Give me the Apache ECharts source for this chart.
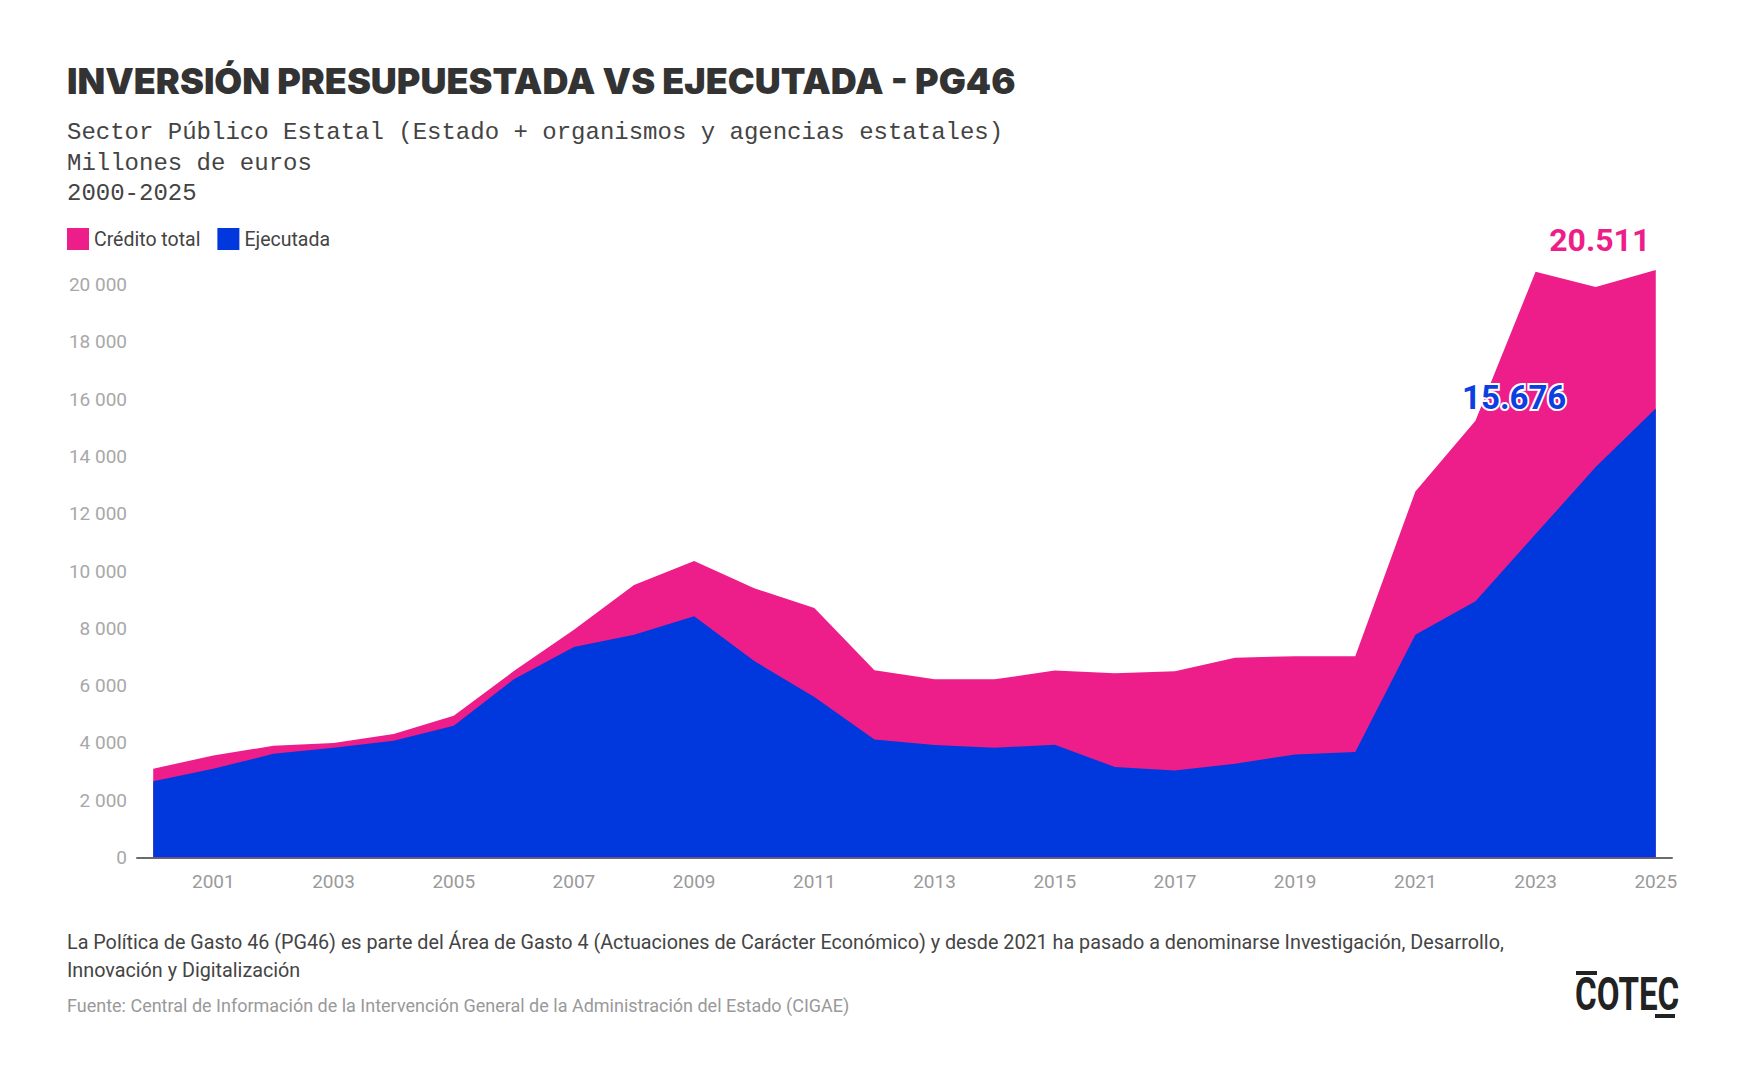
<!DOCTYPE html>
<html>
<head>
<meta charset="utf-8">
<script src="https://cdn.jsdelivr.net/npm/echarts@6/dist/echarts.min.js"></script>
<style>
  html, body { margin: 0; padding: 0; background: #fff; }
  #chart { width: 1744px; height: 1086px; }
</style>
</head>
<body>
<div id="chart"></div>
<script>
const years = [2000, 2001, 2002, 2003, 2004, 2005, 2006, 2007, 2008, 2009, 2010, 2011, 2012,
  2013, 2014, 2015, 2016, 2017, 2018, 2019, 2020, 2021, 2022, 2023, 2024, 2025];
const creditoTotal = [3100, 3560, 3900, 4000, 4310, 4950, 6510, 7950, 9510, 10350, 9400, 8710, 6540,
  6220, 6220, 6530, 6430, 6500, 6970, 7030, 7030, 12780, 15250, 20450, 19920, 20511];
const ejecutada = [2660, 3100, 3620, 3830, 4080, 4600, 6220, 7350, 7780, 8420, 6860, 5600, 4120,
  3930, 3830, 3940, 3160, 3040, 3270, 3600, 3680, 7780, 8950, 11290, 13630, 15676];
const yearLabels = [2001, 2003, 2005, 2007, 2009, 2011, 2013, 2015, 2017, 2019, 2021, 2023, 2025];

const PINK = "#ed1e8a";
const BLUE = "#0038dd";
const last = years.length - 1;

const thousands = (v, sep) => String(v).replace(/\B(?=(\d{3})+(?!\d))/g, sep);
const pairs = (values) => values.map((v, i) => [years[i], v]);

const chart = echarts.init(document.getElementById("chart"), null, { renderer: "svg" });

const txt = (text, x, y, font, fill) => ({
  type: "text",
  x,
  y,
  style: { text, font, fill, verticalAlign: "middle" },
});

chart.setOption({
  animation: false,
  backgroundColor: "#fff",
  textStyle: { fontFamily: "Roboto" },
  graphic: [
    txt("INVERSIÓN PRESUPUESTADA VS EJECUTADA - PG46", 67, 81, "900 36px Inter", "#333"),
    txt("Sector Público Estatal (Estado + organismos y agencias estatales)", 67, 132, "24px 'Liberation Mono'", "#444"),
    txt("Millones de euros", 67, 163, "24px 'Liberation Mono'", "#444"),
    txt("2000-2025", 67, 193, "24px 'Liberation Mono'", "#444"),
    txt("La Política de Gasto 46 (PG46) es parte del Área de Gasto 4 (Actuaciones de Carácter Económico) y desde 2021 ha pasado a denominarse Investigación, Desarrollo,",
      67, 942, "19.75px Roboto", "#444"),
    txt("Innovación y Digitalización", 67, 970, "19.75px Roboto", "#444"),
    txt("Fuente: Central de Información de la Intervención General de la Administración del Estado (CIGAE)",
      67, 1005, "18px Roboto", "#999"),
    {
      type: "group",
      x: 1575,
      y: 971,
      children: [
        { type: "rect", shape: { x: 1, y: 0, width: 21, height: 4 }, style: { fill: "#222" } },
        {
          type: "text",
          x: 0,
          y: 24,
          scaleX: 0.72,
          style: { text: "COTEC", font: "bold 46px Roboto", fill: "#222", verticalAlign: "middle" },
        },
        { type: "rect", shape: { x: 80, y: 43, width: 20, height: 4 }, style: { fill: "#222" } },
      ],
    },
  ],
  legend: {
    left: 67,
    top: 228,
    padding: 0,
    itemWidth: 22,
    itemHeight: 22,
    itemGap: 17,
    icon: "rect",
    textStyle: { fontSize: 19.5, color: "#444" },
    data: ["Crédito total", "Ejecutada"],
  },
  grid: { left: 137, right: 72, top: 256, bottom: 228.5 },
  xAxis: {
    type: "value",
    min: 1999.73,
    max: 2025.27,
    splitLine: { show: false },
    axisTick: { show: false },
    axisLine: { show: true, lineStyle: { color: "#6b6b6b", width: 2 } },
    axisLabel: {
      customValues: yearLabels,
      margin: 14,
      fontSize: 19,
      color: "#9a9a9a",
      formatter: (v) => String(v),
    },
  },
  yAxis: {
    type: "value",
    min: 0,
    max: 21000,
    interval: 2000,
    splitLine: { show: false },
    axisTick: { show: false },
    axisLine: { show: false },
    axisLabel: {
      margin: 10,
      fontSize: 19,
      color: "#a8a8a8",
      showMaxLabel: false,
      formatter: (v) => thousands(v, " "),
    },
  },
  series: [
    {
      name: "Crédito total",
      type: "line",
      symbol: "none",
      lineStyle: { width: 0 },
      itemStyle: { color: PINK },
      areaStyle: { color: PINK, opacity: 1 },
      data: pairs(creditoTotal),
      markPoint: {
        symbol: "circle",
        symbolSize: 1,
        itemStyle: { color: "rgba(0,0,0,0)" },
        label: {
          position: "top",
          distance: 14,
          offset: [-56, 0],
          formatter: (p) => thousands(p.data.coord[1], "."),
          fontSize: 32,
          fontWeight: "bold",
          color: PINK,
        },
        data: [{ coord: [years[last], creditoTotal[last]] }],
      },
    },
    {
      name: "Ejecutada",
      type: "line",
      symbol: "none",
      lineStyle: { width: 0 },
      itemStyle: { color: BLUE },
      areaStyle: { color: BLUE, opacity: 1 },
      data: pairs(ejecutada),
      markPoint: {
        symbol: "circle",
        symbolSize: 1,
        itemStyle: { color: "rgba(0,0,0,0)" },
        label: {
          position: "left",
          distance: 89,
          offset: [0, -11],
          formatter: (p) => thousands(p.data.coord[1], "."),
          fontSize: 33,
          fontWeight: "bold",
          color: "#0b3fe0",
          textBorderColor: "#fff",
          textBorderWidth: 4,
        },
        data: [{ coord: [years[last], ejecutada[last]] }],
      },
    },
  ],
});
</script>
</body>
</html>
